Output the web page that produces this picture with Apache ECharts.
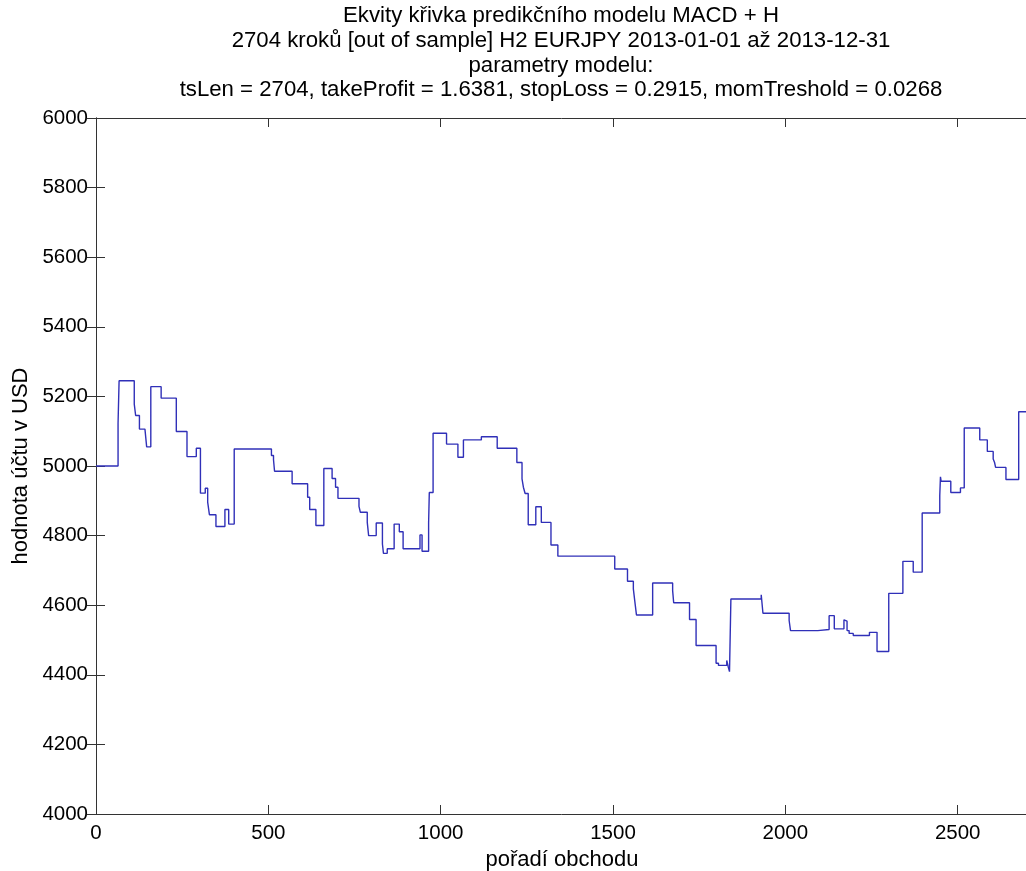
<!DOCTYPE html>
<html>
<head>
<meta charset="utf-8">
<script src="https://cdn.jsdelivr.net/npm/echarts@6/dist/echarts.min.js"></script>
<style>
html,body{margin:0;padding:0;background:#fff;}
#c{width:1026px;height:871px;}
</style>
</head>
<body>
<div id="c"></div>
<script>
const titleLines = [
  'Ekvity křivka predikčního modelu MACD + H',
  '2704 kroků [out of sample] H2 EURJPY 2013-01-01 až 2013-12-31',
  'parametry modelu:',
  'tsLen = 2704, takeProfit = 1.6381, stopLoss = 0.2915, momTreshold = 0.0268'
];
const xName = 'pořadí obchodu';
const yName = 'hodnota účtu v USD';

// trade index at which equity changes
const tradeIdx = [
  0, 64, 67, 111, 115, 126, 142, 147, 159, 189,
  233, 264, 291, 303, 317, 324, 329, 348, 374, 385,
  401, 509, 515, 518, 569, 614, 620, 638, 661, 685,
  695, 702, 763, 767, 787, 791, 813, 831, 834, 845,
  865, 880, 891, 940, 946, 965, 967, 978, 1017, 1050,
  1066, 1118, 1164, 1221, 1236, 1240, 1245, 1254, 1276, 1292,
  1320, 1340, 1505, 1542, 1559, 1563, 1568, 1615, 1673, 1676,
  1722, 1741, 1799, 1806, 1830, 1834, 1838, 1842, 1930, 1935,
  2011, 2015, 2094, 2127, 2142, 2170, 2173, 2179, 2185, 2197,
  2244, 2266, 2300, 2341, 2371, 2397, 2448, 2450, 2452, 2480,
  2508, 2519, 2564, 2586, 2603, 2607, 2610, 2640, 2677, 2704
];
// account value after the change
const equity = [
  5000, 5123, 5245, 5178, 5145, 5106, 5101, 5055, 5228, 5195,
  5099, 5027, 5051, 4922, 4936, 4896, 4860, 4826, 4875, 4833,
  5049, 5030, 5018, 4985, 4949, 4910, 4875, 4829, 4993, 4964,
  4939, 4907, 4884, 4867, 4838, 4800, 4836, 4776, 4749, 4762,
  4833, 4811, 4762, 4802, 4755, 4836, 4924, 5094, 5063, 5025,
  5075, 5084, 5051, 5010, 4963, 4939, 4921, 4831, 4883, 4838,
  4773, 4741, 4704, 4669, 4647, 4613, 4572, 4664, 4642, 4607,
  4559, 4484, 4433, 4427, 4441, 4424, 4409, 4618, 4630, 4577,
  4556, 4527, 4530, 4570, 4532, 4558, 4554, 4527, 4519, 4513,
  4522, 4467, 4634, 4726, 4695, 4865, 4915, 4969, 4956, 4924,
  4937, 5109, 5075, 5042, 5020, 5010, 4996, 4961, 5156, 5156
];

const FONT = 'Liberation Sans, Arial, sans-serif';
const data = tradeIdx.map((x, i) => [x, equity[i]]);
const plain = v => String(v);

const chart = echarts.init(document.getElementById('c'), null, {renderer: 'canvas'});
const axisLineStyle = {color: '#333', width: 1};
chart.setOption({
  backgroundColor: '#fff',
  animation: false,
  title: {
    text: titleLines.join('\n'),
    left: 556, top: -1, textAlign: 'center',
    textStyle: {fontFamily: FONT, fontSize: 22.2, fontWeight: 'normal', color: '#000', lineHeight: 24.6}
  },
  grid: {left: 96, top: 118, width: 932, height: 696, containLabel: false, outerBoundsMode: 'none'},
  xAxis: [{
    type: 'value', min: 0, max: 2704, interval: 500,
    name: xName, nameLocation: 'middle', nameGap: 33,
    nameTextStyle: {fontFamily: FONT, fontSize: 22, color: '#000'},
    axisLine: {show: true, lineStyle: axisLineStyle},
    axisTick: {show: true, inside: true, length: 9, lineStyle: axisLineStyle},
    axisLabel: {fontFamily: FONT, fontSize: 20.5, color: '#000', margin: 9, showMaxLabel: false, formatter: plain},
    splitLine: {show: false}
  }, {
    type: 'value', min: 0, max: 2704, interval: 500, position: 'top',
    axisLine: {show: true, lineStyle: axisLineStyle},
    axisTick: {show: true, inside: true, length: 9, lineStyle: axisLineStyle},
    axisLabel: {show: false}, splitLine: {show: false}
  }],
  yAxis: [{
    type: 'value', min: 4000, max: 6000, interval: 200,
    name: yName, nameLocation: 'middle', nameGap: 63, nameRotate: 90,
    nameTextStyle: {fontFamily: FONT, fontSize: 22, color: '#000'},
    axisLine: {show: true, lineStyle: axisLineStyle},
    axisTick: {show: true, inside: true, length: 9, lineStyle: axisLineStyle},
    axisLabel: {fontFamily: FONT, fontSize: 20.5, color: '#000', margin: 8, formatter: plain},
    splitLine: {show: false}
  }, {
    type: 'value', min: 4000, max: 6000, interval: 200, position: 'right',
    axisLine: {show: true, lineStyle: axisLineStyle},
    axisTick: {show: true, inside: true, length: 9, lineStyle: axisLineStyle},
    axisLabel: {show: false}, splitLine: {show: false}
  }],
  series: [{
    type: 'line', step: 'end', data: data, showSymbol: false, symbol: 'none',
    lineStyle: {color: '#3030b8', width: 1.4}
  }]
});
</script>
</body>
</html>
